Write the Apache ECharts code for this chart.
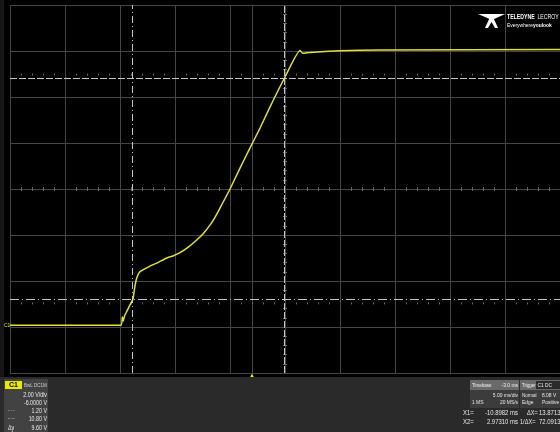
<!DOCTYPE html>
<html>
<head>
<meta charset="utf-8">
<script src="https://cdn.jsdelivr.net/npm/echarts@6/dist/echarts.min.js"></script>
<style>
html, body { margin: 0; padding: 0; background: #000; }
#main { width: 560px; height: 432px; }
</style>
</head>
<body>
<div id="main"></div>
<script>
// C1 trace: time in ms, level in V
var timeMs = [-22, -11.91, -11.79, -11.70, -11.59, -11.36, -11.09, -10.82, -10.64, -10.45, -10.18, -9.27, -8.55, -7.75, -7.18, -6.55, -5.82, -5.03, -4.40, -3.82, -3.35, -2.91, -2.0, -1.09, -0.27, 0.73, 1.64, 3.0, 4.36, 4.61, 5.27, 8.0, 11.64, 28];
var volts = [0.08, 0.08, 0.44, 0.26, 0.48, 0.70, 0.96, 1.22, 1.78, 2.17, 2.41, 2.65, 2.80, 3.0, 3.09, 3.23, 3.46, 3.78, 4.08, 4.43, 4.78, 5.17, 6.0, 6.91, 7.70, 8.65, 9.57, 10.87, 12.02, 11.90, 11.94, 12.01, 12.04, 12.06];

// scope setup: 5 ms/div x 10 div, 2 V/div x 8 div, offset -6 V
var timeMin = -22, timeMax = 28;
var voltMin = -2, voltMax = 14, voltDiv = 2;
var cursorX = [-10.8982, 2.97310];
var cursorY = [1.20, 10.80];
var triggerTime = 0;

// info panel texts
var chanLines = ['2.00 V/div', '-6.0000 V', '1.20 V', '10.80 V', '9.60 V'];
var tbLines = ['Timebase', '-3.0 ms', '5.00 ms/div', '1 MS', '20 MS/s'];
var trigLines = ['Trigger', 'C1 DC', 'Normal', '8.08 V', 'Edge', 'Positive'];
var cursorText = ['X1=', '-10.8982 ms', '\u0394X=', '13.8713 ms', 'X2=', '2.97310 ms', '1/\u0394X=', '72.0913 Hz'];

var gridColor = '#454545';
var cursorColor = '#c6c6c6';
var traceColor = '#e0e03a';
var font = '"Liberation Sans", Arial, sans-serif';
var plot = { left: 10, top: 5, width: 550, height: 368 };

function yPix(v) { return plot.top + (voltMax - v) / (voltMax - voltMin) * plot.height; }
function xPix(t) { return plot.left + (t - timeMin) / (timeMax - timeMin) * plot.width; }

var trace = [];
for (var i = 0; i < timeMs.length; i++) {
    trace.push([timeMs[i], volts[i]]);
}

var myChart = echarts.init(document.getElementById('main'));

// condensed looking text (scaled horizontally round its anchor)
function txt(x, y, s, size, color, align, bold, sx) {
    return {
        type: 'text', x: x, y: y, z: 20, scaleX: sx || 0.82,
        style: {
            text: s, fill: color || '#e8e8e8', align: align || 'left', verticalAlign: 'middle',
            font: (bold ? 'bold ' : '') + (size || 6) + 'px ' + font
        }
    };
}
function box(x, y, w, h, color) {
    return { type: 'rect', z: 10, shape: { x: x, y: y, width: w, height: h }, style: { fill: color } };
}

// small graticule / cursor ticks, one fifth of a division
function tickAxis(gridIndex, inside, len) {
    return {
        type: 'value', gridIndex: gridIndex, position: 'bottom',
        min: 0, max: 50, interval: 5,
        axisLine: { show: false }, axisLabel: { show: false }, splitLine: { show: false },
        axisTick: { show: false, inside: inside, length: len },
        minorTick: { show: true, splitNumber: 5, length: len, lineStyle: { color: '#6a6a6a', width: 1 } }
    };
}
function dummyAxis(gridIndex) {
    return { type: 'value', gridIndex: gridIndex, min: 0, max: 1, show: false };
}

var option = {
    backgroundColor: '#000',
    animation: false,
    grid: [
        plot,
        { left: plot.left, width: plot.width, top: plot.top, height: yPix(6) + 2 - plot.top },
        { left: xPix(3) - 2, width: 100, top: plot.top, height: plot.height },
        { left: plot.left, width: plot.width, top: plot.top, height: yPix(cursorY[1]) - 3 - plot.top },
        { left: plot.left, width: plot.width, top: plot.top, height: yPix(cursorY[0]) + 3 - plot.top }
    ],
    xAxis: [
        { type: 'value', gridIndex: 0, min: timeMin, max: timeMax, show: false },
        {
            type: 'value', gridIndex: 0, min: 0, max: 50, interval: 5, position: 'bottom',
            axisLine: { show: true, lineStyle: { color: gridColor } },
            axisTick: { show: false }, axisLabel: { show: false },
            splitLine: { show: true, lineStyle: { color: gridColor, width: 1 } }
        },
        tickAxis(1, true, 4),
        dummyAxis(2),
        tickAxis(3, true, 2),
        tickAxis(4, false, 2)
    ],
    yAxis: [
        {
            type: 'value', gridIndex: 0, min: voltMin, max: voltMax, interval: voltDiv,
            axisLine: { show: true, lineStyle: { color: gridColor } },
            axisTick: { show: false }, axisLabel: { show: false },
            splitLine: { show: true, lineStyle: { color: gridColor, width: 1 } }
        },
        dummyAxis(1),
        {
            type: 'value', gridIndex: 2, position: 'left', min: voltMin, max: voltMax, interval: voltDiv,
            axisLine: { show: false }, axisLabel: { show: false }, splitLine: { show: false },
            axisTick: { show: false, inside: true, length: 4 },
            minorTick: { show: true, splitNumber: 5, length: 4, lineStyle: { color: '#6a6a6a', width: 1 } }
        },
        dummyAxis(3),
        dummyAxis(4)
    ],
    series: [{
        name: 'C1',
        type: 'line',
        xAxisIndex: 0, yAxisIndex: 0,
        data: trace,
        showSymbol: false,
        smooth: 0.15,
        clip: false,
        lineStyle: { color: traceColor, width: 1.5 },
        z: 5,
        markLine: {
            silent: true, symbol: 'none', label: { show: false },
            lineStyle: { color: cursorColor, width: 1 },
            data: [
                { xAxis: cursorX[0], lineStyle: { type: [7, 3, 1, 3] } },
                { xAxis: cursorX[1], lineStyle: { type: [7, 2] } },
                { yAxis: cursorY[0], lineStyle: { type: [9, 3, 1, 3] } },
                { yAxis: cursorY[1], lineStyle: { type: [7, 2] } }
            ]
        },
        markPoint: {
            silent: true, symbol: 'triangle', symbolSize: [5, 5], symbolOffset: [0, 3],
            label: { show: false }, itemStyle: { color: '#f0f000' },
            data: [{ coord: [triggerTime, voltMin] }]
        }
    }],
    graphic: [
        // frame outside the graticule
        box(0, 0, 4, 377, '#161616'),
        box(0, 377, 560, 55, '#2a2a2a'),
        // channel box
        box(4, 379, 44, 53, '#424242'),
        box(5, 381, 17, 8, '#e8e800'),
        txt(13.5, 385, 'C1', 7, '#000', 'center', true, 1),
        txt(24, 385, 'BwL DC1M', 5.5, '#d0d0d0'),
        txt(47, 395, chanLines[0], 6.5, '#e8e8e8', 'right'),
        txt(47, 403, chanLines[1], 6.5, '#e8e8e8', 'right'),
        txt(8, 411, '- - -', 5, '#cfcfcf'),
        txt(47, 411, chanLines[2], 6.5, '#e8e8e8', 'right'),
        txt(8, 419, '-- --', 5, '#cfcfcf'),
        txt(47, 419, chanLines[3], 6.5, '#e8e8e8', 'right'),
        txt(8, 428, '\u0394y', 6.5, '#e8e8e8'),
        txt(47, 428, chanLines[4], 6.5, '#e8e8e8', 'right'),
        // timebase / trigger boxes
        box(470, 380, 49, 10, '#6a6a6a'),
        box(470, 390, 49, 18, '#3c3c3c'),
        box(520, 380, 40, 10, '#6a6a6a'),
        box(520, 390, 40, 18, '#3c3c3c'),
        box(536, 381, 24, 8, '#2a2a2a'),
        txt(472, 385, tbLines[0], 6, '#f2f2f2', 'left', false, 0.75),
        txt(518, 385, tbLines[1], 6, '#f2f2f2', 'right'),
        txt(518, 395, tbLines[2], 6, '#e8e8e8', 'right'),
        txt(472, 402, tbLines[3], 6, '#e8e8e8'),
        txt(518, 402, tbLines[4], 6, '#e8e8e8', 'right'),
        txt(522, 385, trigLines[0], 6, '#f2f2f2', 'left', false, 0.72),
        txt(537.5, 385, trigLines[1], 6, '#f2f2f2', 'left', false, 0.8),
        txt(522, 395, trigLines[2], 6, '#e8e8e8', 'left', false, 0.75),
        txt(542, 395, trigLines[3], 6, '#e8e8e8'),
        txt(522, 402, trigLines[4], 6, '#e8e8e8'),
        txt(542, 402, trigLines[5], 6, '#e8e8e8'),
        // cursor readouts
        txt(463, 413, cursorText[0], 7, '#e8e8e8', 'left', false, 0.85),
        txt(518, 413, cursorText[1], 7, '#e8e8e8', 'right', false, 0.85),
        txt(527, 413, cursorText[2], 7, '#e8e8e8', 'left', false, 0.8),
        txt(539, 413, cursorText[3], 7, '#e8e8e8', 'left', false, 0.85),
        txt(463, 422, cursorText[4], 7, '#e8e8e8', 'left', false, 0.85),
        txt(518, 422, cursorText[5], 7, '#e8e8e8', 'right', false, 0.85),
        txt(520, 422, cursorText[6], 7, '#e8e8e8', 'left', false, 0.8),
        txt(539, 422, cursorText[7], 7, '#e8e8e8', 'left', false, 0.85),
        // ground marker of C1
        txt(4, yPix(volts[0]), 'C1', 5, traceColor, 'left', false, 1),
        // logo
        { type: 'polygon', z: 20, shape: { points: [[478, 14], [505, 14], [492, 20]] }, style: { fill: '#fff' } },
        { type: 'polygon', z: 20, shape: { points: [[490, 17], [485, 28], [488, 28], [491.5, 22], [495, 28], [498, 28], [493, 17]] }, style: { fill: '#fff' } },
        {
            type: 'text', x: 507, y: 17, z: 20, scaleX: 0.8,
            style: {
                text: '{a|TELEDYNE} {b|LECROY}', verticalAlign: 'middle',
                rich: {
                    a: { fill: '#fff', font: 'bold 6.5px ' + font },
                    b: { fill: '#fff', font: '6.5px ' + font }
                }
            }
        },
        {
            type: 'text', x: 507, y: 25, z: 20, scaleX: 0.82,
            style: {
                text: '{a|Everywhere}{b|youlook}', verticalAlign: 'middle',
                rich: {
                    a: { fill: '#fff', font: '6px ' + font },
                    b: { fill: '#fff', font: 'bold 6px ' + font }
                }
            }
        }
    ]
};
myChart.setOption(option);
</script>
</body>
</html>
